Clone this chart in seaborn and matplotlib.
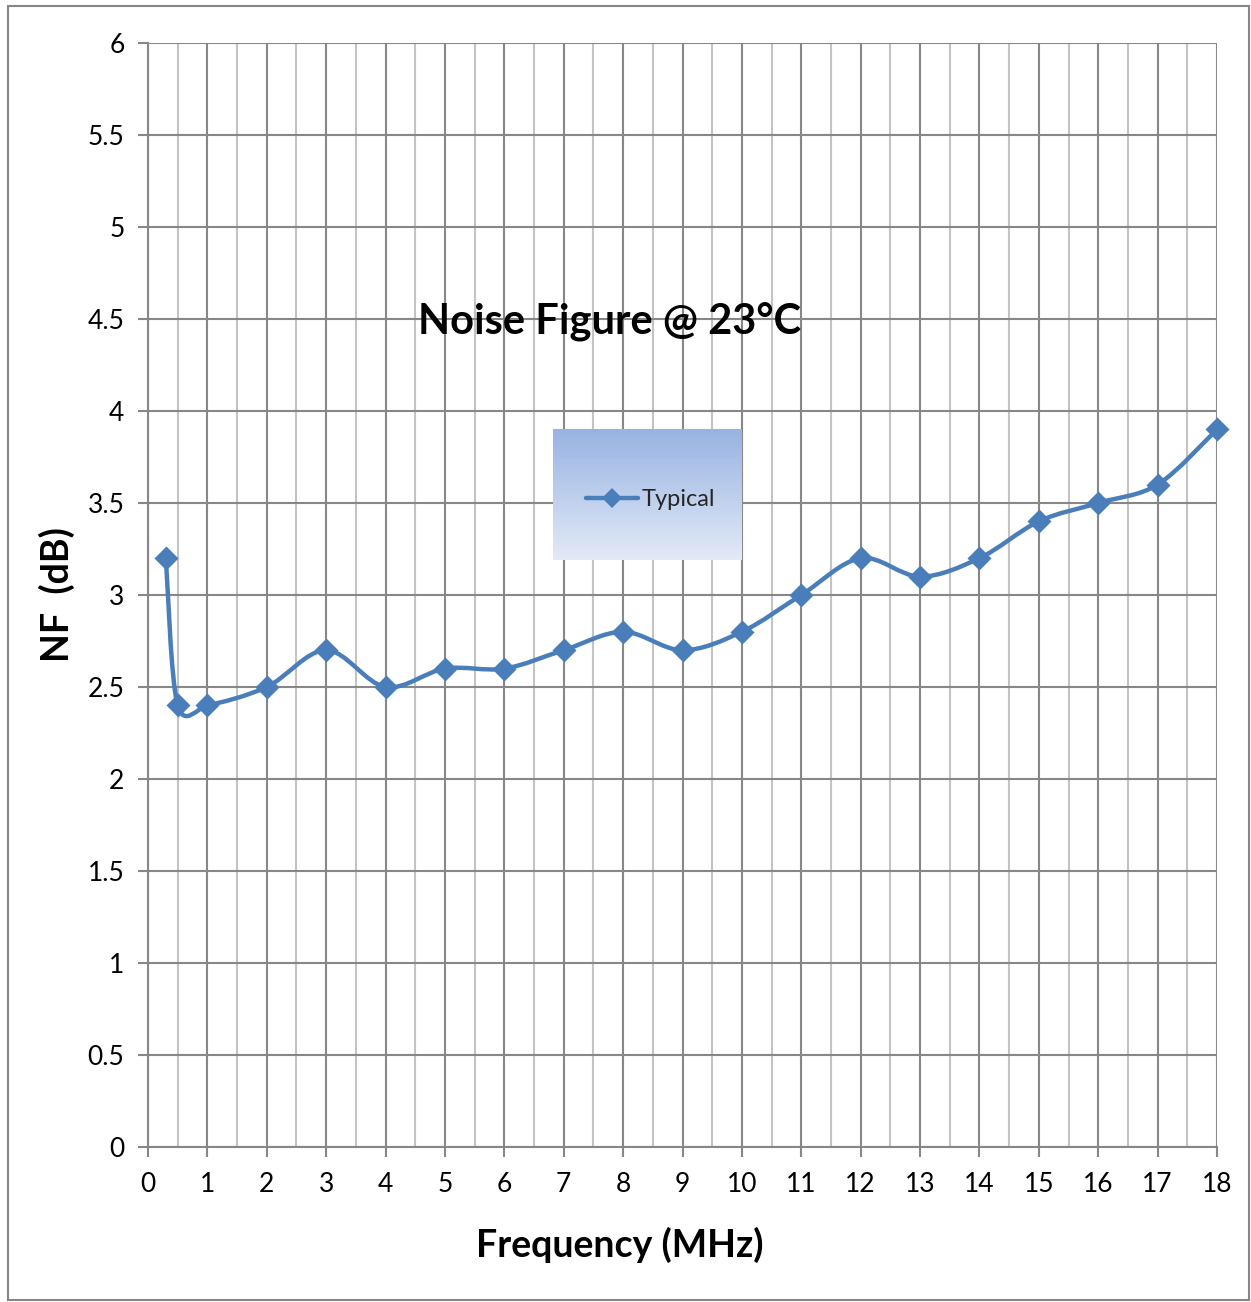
import numpy as np
import matplotlib
matplotlib.use("Agg")
import matplotlib.pyplot as plt
import seaborn as sns
from matplotlib.path import Path
from matplotlib.patches import PathPatch, Rectangle
from matplotlib.lines import Line2D

# ---- data ----
freq_mhz = [0.3, 0.5, 1, 2, 3, 4, 5, 6, 7, 8, 9, 10, 11, 12, 13, 14, 15, 16, 17, 18]
nf_db = [3.2, 2.4, 2.4, 2.5, 2.7, 2.5, 2.6, 2.6, 2.7, 2.8, 2.7, 2.8, 3.0, 3.2, 3.1, 3.2, 3.4, 3.5, 3.6, 3.9]
series_label = "Typical"
x_ticks = list(range(0, 19))
y_ticks = [0, 0.5, 1, 1.5, 2, 2.5, 3, 3.5, 4, 4.5, 5, 5.5, 6]
y_tick_labels = ["0", "0.5", "1", "1.5", "2", "2.5", "3", "3.5", "4", "4.5", "5", "5.5", "6"]
title_text = "Noise Figure @ 23°C"
x_label = "Frequency (MHz)"
y_label = "NF  (dB)"

LINE_COLOR = "#4a7ebb"
MAJOR_GRID = "#878787"
MINOR_GRID = "#c3c3c3"

sns.set_theme(style="white")
plt.rcParams["font.family"] = ["Lato", "DejaVu Sans"]

W, H = 1251, 1302
fig = plt.figure(figsize=(W / 100, H / 100), dpi=100)
ax = fig.add_axes([148 / W, (H - 1147) / H, 1069 / W, 1104 / H])
ax.set_facecolor("white")

ax.set_xlim(0, 18)
ax.set_ylim(0, 6)

# grid
ax.set_xticks(x_ticks)
ax.set_xticks(np.arange(0.5, 18, 1.0), minor=True)
ax.set_yticks(y_ticks)
ax.set_yticklabels(y_tick_labels)
ax.grid(which="major", axis="both", color=MAJOR_GRID, linewidth=1.5, zorder=0)
ax.grid(which="minor", axis="x", color=MINOR_GRID, linewidth=1.5, zorder=0)
ax.set_axisbelow(True)
for s in ["top", "right"]:
    ax.spines[s].set_visible(False)
for s in ["left", "bottom"]:
    ax.spines[s].set_color(MAJOR_GRID)
    ax.spines[s].set_linewidth(1.5)
ax.tick_params(which="major", axis="both", direction="out", length=7, width=1.5,
               color=MAJOR_GRID, labelsize=19, labelcolor="black")
ax.tick_params(which="major", axis="y", pad=10, left=True)
ax.tick_params(which="major", axis="x", pad=11, bottom=True)
ax.tick_params(which="minor", length=0)

# smooth line (Bezier through data points, Catmull-Rom style control points)
pts = np.column_stack([freq_mhz, nf_db]).astype(float)
n = len(pts)
verts = [tuple(pts[0])]
codes = [Path.MOVETO]
for i in range(n - 1):
    p0 = pts[i - 1] if i > 0 else pts[i]
    p1 = pts[i]
    p2 = pts[i + 1]
    p3 = pts[i + 2] if i + 2 < n else pts[i + 1]
    seg = np.hypot(*(p2 - p1))
    d1 = (p2 - p0)
    d2 = (p3 - p1)
    # scale tangents to segment length (limits overshoot on uneven spacing)
    t1 = d1 / 6.0 * min(1.0, 2 * seg / max(np.hypot(*d1), 1e-9) * 1.0)
    t2 = d2 / 6.0 * min(1.0, 2 * seg / max(np.hypot(*d2), 1e-9) * 1.0)
    c1 = p1 + t1
    c2 = p2 - t2
    verts += [tuple(c1), tuple(c2), tuple(p2)]
    codes += [Path.CURVE4] * 3
patch = PathPatch(Path(verts, codes), facecolor="none", edgecolor=LINE_COLOR,
                  linewidth=3.2, capstyle="round", joinstyle="round", zorder=3)
ax.add_patch(patch)

sns.scatterplot(x=freq_mhz, y=nf_db, marker="D", s=150, color=LINE_COLOR,
                edgecolor=LINE_COLOR, linewidth=0, ax=ax, zorder=4, legend=False,
                clip_on=False)

# legend box with gradient
bx0, bx1 = (553 - 148) / 1069, (742 - 148) / 1069
by0, by1 = (1147 - 560) / 1104, (1147 - 430) / 1104
grad = np.linspace(0, 1, 256).reshape(-1, 1)
top = np.array(matplotlib.colors.to_rgb("#97b3e2"))
bot = np.array(matplotlib.colors.to_rgb("#e3eaf7"))
img = top[None, None, :] * (1 - grad[:, :, None]) + bot[None, None, :] * grad[:, :, None]
ax.imshow(img, extent=[bx0, bx1, by0, by1], transform=ax.transAxes, aspect="auto",
          zorder=5, interpolation="bilinear", clip_on=False)
ax.set_xlim(0, 18)
ax.set_ylim(0, 6)

handle = Line2D([], [], color=LINE_COLOR, linewidth=3.2, marker="D", markersize=10,
                markeredgewidth=0, solid_capstyle="round")
leg = ax.legend([handle], [series_label], loc="center",
                bbox_to_anchor=((bx0 + bx1) / 2 + 0.003, (by0 + by1) / 2 - 0.004), frameon=False,
                fontsize=17, handlelength=2.2, handletextpad=0.15, borderaxespad=0)
leg.set_zorder(6)

# title inside plot
ax.text((610 - 148) / 1069, (1147 - 322) / 1104, title_text, transform=ax.transAxes,
        ha="center", va="center", fontsize=30, fontweight="bold", color="black", zorder=6)

ax.set_xlabel(x_label, fontsize=27, fontweight="bold", color="black")
ax.set_ylabel(y_label, fontsize=27, fontweight="bold", color="black")
ax.xaxis.set_label_coords((620 - 148) / 1069, (1147 - 1245) / 1104)
ax.yaxis.set_label_coords((57 - 148) / 1069, (1147 - 595) / 1104)
ax.xaxis.label.set_va("center")
ax.yaxis.label.set_va("center")

# figure border
fig.patches.append(Rectangle((8 / W, 2 / H), (1249 - 8) / W, (1296 - 2) / H,
                             transform=fig.transFigure, fill=False,
                             edgecolor="#868686", linewidth=1.5))

fig.savefig("out.png", dpi=100, facecolor="white")
